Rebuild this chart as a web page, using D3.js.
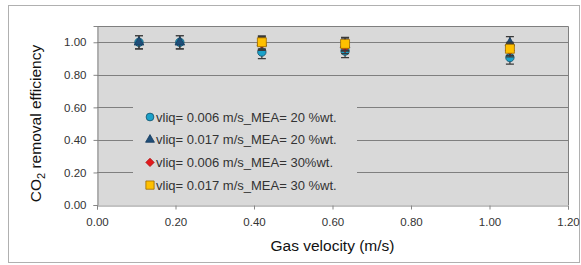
<!DOCTYPE html>
<html>
<head>
<meta charset="utf-8">
<script src="https://cdn.jsdelivr.net/npm/d3@7"></script>
<style>
  body { margin: 0; background: #fff; }
  svg { display: block; font-family: "Liberation Sans", Arial, sans-serif; }
</style>
</head>
<body>
<script>
// gas velocity (m/s) for each measurement
var gasVelocity = [0.107, 0.211, 0.42, 0.632, 1.052];

// CO2 removal efficiency for each series
var effLiq006Mea20 = [1.00, 1.00, 0.94, 0.946, 0.906];
var effLiq017Mea20 = [1.00, 1.00, 0.995, 0.985, 0.995];
var effLiq006Mea30 = [null, null, 0.99, 0.97, 0.95];
var effLiq017Mea30 = [null, null, 1.00, 0.99, 0.96];
var errorBar = 0.04;

var seriesNames = [
  'vliq= 0.006 m/s_MEA= 20 %wt.',
  'vliq= 0.017 m/s_MEA= 20 %wt.',
  'vliq= 0.006 m/s_MEA= 30%wt.',
  'vliq= 0.017 m/s_MEA= 30 %wt.'
];
var xTicks = [0, 0.2, 0.4, 0.6, 0.8, 1.0, 1.2];
var yTicks = [0, 0.2, 0.4, 0.6, 0.8, 1.0];

var width = 581, height = 265;
var margin = {left: 97, right: 13, top: 26, bottom: 60};

var svg = d3.select('body').append('svg')
    .attr('width', width)
    .attr('height', height);

// outer chart frame
svg.append('rect')
    .attr('x', 8.5).attr('y', 5.5)
    .attr('width', 571).attr('height', 257)
    .attr('fill', '#fff')
    .attr('stroke', '#b0b0b0');

var x = d3.scaleLinear().domain([0, 1.2]).range([margin.left, width - margin.right]);
var y = d3.scaleLinear().domain([0, 1.1]).range([height - margin.bottom, margin.top]);

// plot area
svg.append('rect')
    .attr('x', x(0)).attr('y', y(1.1))
    .attr('width', x(1.2) - x(0)).attr('height', y(0) - y(1.1))
    .attr('fill', '#d9d9d9');

// gridlines
svg.append('g').selectAll('line')
    .data(yTicks.filter(function(d) { return d > 0; }))
    .enter().append('line')
    .attr('x1', x(0)).attr('x2', x(1.2))
    .attr('y1', function(d) { return Math.round(y(d)) + 0.5; })
    .attr('y2', function(d) { return Math.round(y(d)) + 0.5; })
    .attr('stroke', '#7f7f7f')
    .attr('stroke-width', 1);

// plot border on top and right
svg.append('path')
    .attr('d', 'M' + x(0) + ',' + (Math.round(y(1.1)) + 0.5) + 'H' + (Math.round(x(1.2)) + 0.5) + 'V' + y(0))
    .attr('fill', 'none')
    .attr('stroke', '#7f7f7f');

// axes
var xAxis = svg.append('g')
    .attr('transform', 'translate(0,' + (Math.round(y(0)) + 0.5) + ')')
    .call(d3.axisBottom(x).tickValues(xTicks).tickFormat(d3.format('.2f')).tickSize(4).tickPadding(8));
var yAxis = svg.append('g')
    .attr('transform', 'translate(' + (Math.round(x(0)) + 0.5) + ',0)')
    .call(d3.axisLeft(y).tickValues(yTicks).tickFormat(d3.format('.2f')).tickSize(4).tickPadding(7));

[xAxis, yAxis].forEach(function(a) {
  a.select('.domain').attr('stroke', '#868686');
  a.selectAll('.tick line').attr('stroke', '#868686');
  a.selectAll('.tick text')
      .attr('fill', '#333')
      .style('font-size', '11.5px')
      .style('font-family', '"Liberation Sans", Arial, sans-serif');
});

// legend background hides gridlines
svg.append('rect')
    .attr('x', 133).attr('y', 101)
    .attr('width', 224).attr('height', 95)
    .attr('fill', '#d9d9d9');

var seriesData = [effLiq006Mea20, effLiq017Mea20, effLiq006Mea30, effLiq017Mea30];
var markerFill = ['#1ba1c9', '#1f4e79', '#e3191c', '#ffc000'];
var markerStroke = ['#14506a', '#163a5c', '#b01010', '#9c6a00'];
var markerSymbol = [d3.symbolCircle, d3.symbolTriangle, d3.symbolSquare, d3.symbolSquare];
var markerRotate = [0, 0, 45, 0];
var markerSize = [56, 40, 40, 80];

seriesData.forEach(function(values, si) {
  var pts = gasVelocity.map(function(v, i) { return {x: v, y: values[i]}; })
      .filter(function(d) { return d.y !== null; });

  var g = svg.append('g');

  // error bars
  g.selectAll('path.err').data(pts).enter().append('path')
      .attr('class', 'err')
      .attr('d', function(d) {
        var cx = x(d.x), y1 = y(d.y + errorBar), y2 = y(d.y - errorBar);
        return 'M' + (cx - 4) + ',' + y1 + 'H' + (cx + 4) +
               'M' + cx + ',' + y1 + 'V' + y2 +
               'M' + (cx - 4) + ',' + y2 + 'H' + (cx + 4);
      })
      .attr('stroke', '#3a3a3a')
      .attr('stroke-width', 1.2)
      .attr('fill', 'none');

  g.selectAll('path.mk').data(pts).enter().append('path')
      .attr('class', 'mk')
      .attr('transform', function(d) {
        return 'translate(' + x(d.x) + ',' + y(d.y) + ') rotate(' + markerRotate[si] + ')';
      })
      .attr('d', d3.symbol().type(markerSymbol[si]).size(markerSize[si]))
      .attr('fill', markerFill[si])
      .attr('stroke', markerStroke[si])
      .attr('stroke-width', 0.8);
});

// legend
var legend = svg.append('g').selectAll('g')
    .data(seriesNames)
    .enter().append('g')
    .attr('transform', function(d, i) { return 'translate(150,' + (117 + i * 22.7) + ')'; });

legend.append('path')
    .attr('transform', function(d, i) { return 'rotate(' + markerRotate[i] + ')'; })
    .attr('d', function(d, i) { return d3.symbol().type(markerSymbol[i]).size(markerSize[i] * 0.85)(); })
    .attr('fill', function(d, i) { return markerFill[i]; })
    .attr('stroke', function(d, i) { return markerStroke[i]; })
    .attr('stroke-width', 0.8);

legend.append('text')
    .attr('x', 6)
    .attr('dy', '0.36em')
    .attr('fill', '#333')
    .style('font-size', '13px')
    .text(function(d) { return d; });

// axis titles
svg.append('text')
    .attr('x', (x(0) + x(1.2)) / 2)
    .attr('y', 251)
    .attr('text-anchor', 'middle')
    .attr('fill', '#111')
    .style('font-size', '15.5px')
    .text('Gas velocity (m/s)');

var yTitle = svg.append('text')
    .attr('transform', 'translate(41,' + ((y(0) + y(1.1)) / 2 + 8) + ') rotate(-90)')
    .attr('text-anchor', 'middle')
    .attr('fill', '#111')
    .style('font-size', '15.5px');
yTitle.append('tspan').text('CO');
yTitle.append('tspan').attr('dy', 4).style('font-size', '11px').text('2');
yTitle.append('tspan').attr('dy', -4).text(' removal efficiency');
</script>
</body>
</html>
